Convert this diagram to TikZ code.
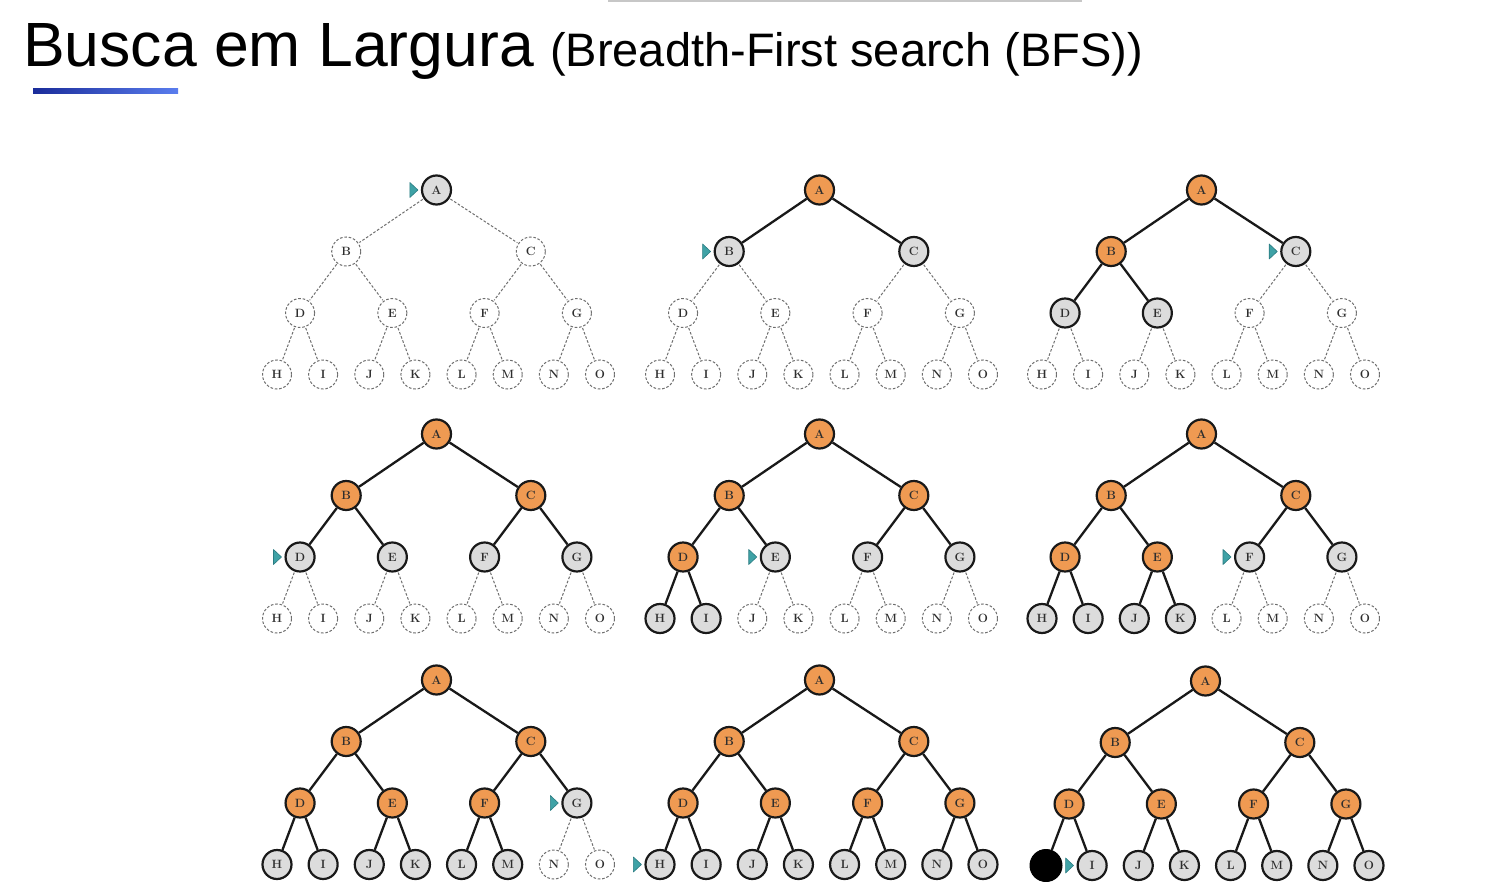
\documentclass[tikz,border=0pt]{standalone}
\usepackage{fontspec}
\setmainfont{Latin Modern Roman}
\newfontfamily\titlefont{Liberation Sans}
\definecolor{visorange}{HTML}{EF9A52}
\definecolor{frontgray}{HTML}{DCDCDC}
\definecolor{dashgray}{HTML}{6E6E6E}
\definecolor{labgray}{HTML}{2E2E2E}
\definecolor{markfill}{HTML}{3FA2A6}
\definecolor{markline}{HTML}{2B7C82}
\definecolor{barleft}{HTML}{1A2C9A}
\definecolor{barright}{HTML}{5A7DEE}
\tikzset{
  tnode/.style={circle, minimum size=29pt, inner sep=0pt, text=labgray,
    font=\fontsize{12}{12}\selectfont\bfseries},
  stvis/.style={tnode, draw=black!90, line width=2.2pt, fill=visorange},
  stgray/.style={tnode, draw=black!90, line width=2.2pt, fill=frontgray},
  stwhite/.style={tnode, draw=dashgray, line width=1pt, dash pattern=on 2.6pt off 1.8pt, fill=white},
  stblack/.style={tnode, minimum size=32pt, draw=black, line width=1pt, fill=black},
  solidedge/.style={draw=black!90, line width=2.3pt},
  dashedge/.style={draw=dashgray, line width=1pt, dash pattern=on 2.6pt off 1.8pt, shorten <=1pt, shorten >=1pt},
  marker/.style={fill=markfill, draw=markline, line width=0.6pt, line join=round}
}
% #1 step, #2 x of leftmost leaf, #3 y of root
\newcommand\bfstree[3]{%
  \foreach \L/\dx/\lv [count=\n from 0] in {A/159.5/0,B/69.2/1,C/253.8/1,D/23.07/2,E/115.35/2,F/207.6/2,G/299.9/2,H/0/3,I/46.14/3,J/92.28/3,K/138.42/3,L/184.56/3,M/230.7/3,N/276.84/3,O/322.98/3}{%
    \def\lab{\L}%
    \ifnum\n<\numexpr#1-1\relax
      \ifnum\n<7 \def\st{stvis}\else\def\st{stblack}\def\lab{}\fi
    \else
      \ifnum\n>\numexpr2*#1-2\relax
        \ifnum\n=\numexpr#1-1\relax\def\st{stgray}\else\def\st{stwhite}\fi
      \else\def\st{stgray}\fi
    \fi
    \node[\st] (t#1\L) at ({#2+\dx},{#3+\lv*61.5}) {\lab};
  }%
  \foreach \p/\c/\ci in {A/B/1,A/C/2,B/D/3,B/E/4,C/F/5,C/G/6,D/H/7,D/I/8,E/J/9,E/K/10,F/L/11,F/M/12,G/N/13,G/O/14}{%
    \ifnum\ci>\numexpr2*#1-2\relax
      \path[dashedge] (t#1\p) -- (t#1\c);
    \else
      \path[solidedge] (t#1\p) -- (t#1\c);
    \fi
  }%
  \foreach \L [count=\n from 1] in {A,B,C,D,E,F,G,H,I,J,K,L,M,N,O}{%
    \ifnum\n=#1
      \path[marker] ([xshift=-3pt]t#1\L.west) -- ++(-8,-7.5) -- ++(0,15) -- cycle;
    \fi
  }%
}
\begin{document}
\begin{tikzpicture}[x=1pt,y=-1pt]
\useasboundingbox (0,0) rectangle (1486,882);
\fill[white] (0,0) rectangle (1486,882);
\draw[black!22, line width=1.6pt] (608,0.8) -- (1082,0.8);
\node[anchor=base west, inner sep=0pt, font=\titlefont\fontsize{62.5}{62.5}\selectfont] (title) at (23,67) {Busca em Largura};
\node[anchor=base west, inner sep=0pt, font=\titlefont\fontsize{47}{47}\selectfont] (subtitle) at (550,67) {(Breadth-First search (BFS))};
\shade[left color=barleft, right color=barright] (33,89) rectangle (178,94);
\bfstree{1}{277}{190}
\bfstree{2}{660}{190}
\bfstree{3}{1042}{190}
\bfstree{4}{277}{434}
\bfstree{5}{660}{434}
\bfstree{6}{1042}{434}
\bfstree{7}{277}{680}
\bfstree{8}{660}{680}
\bfstree{9}{1046}{681}
\end{tikzpicture}
\end{document}
